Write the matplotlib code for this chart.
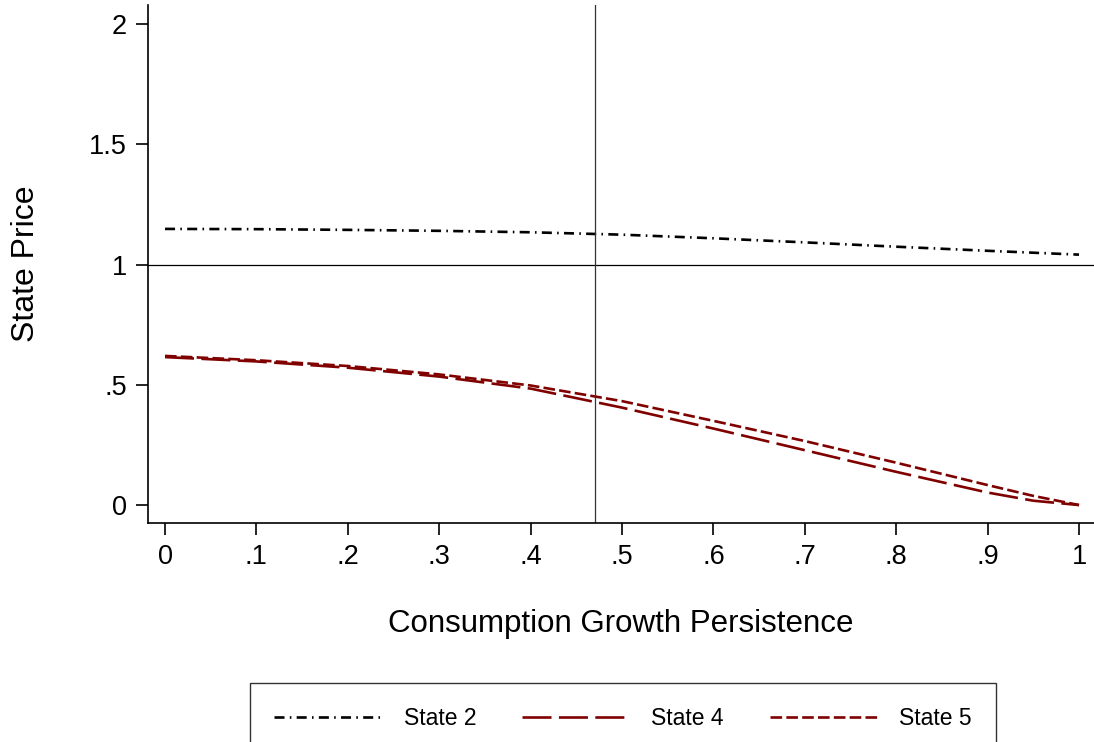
import matplotlib
matplotlib.use('Agg')
import matplotlib.pyplot as plt
from matplotlib.lines import Line2D

plt.rcParams['font.family'] = ['Liberation Sans', 'DejaVu Sans']

# Data
persistence = [0.0, 0.1, 0.2, 0.3, 0.4, 0.5, 0.6, 0.7, 0.8, 0.9, 0.95, 1.0]
state2 = [1.148, 1.147, 1.144, 1.140, 1.134, 1.124, 1.109, 1.092, 1.074, 1.057, 1.049, 1.041]
state4 = [0.615, 0.597, 0.571, 0.534, 0.484, 0.405, 0.318, 0.228, 0.138, 0.052, 0.018, 0.0]
state5 = [0.620, 0.602, 0.578, 0.543, 0.497, 0.432, 0.350, 0.266, 0.176, 0.083, 0.038, 0.0]
series_labels = ['State 2', 'State 4', 'State 5']
x_ticks = [0, .1, .2, .3, .4, .5, .6, .7, .8, .9, 1]
x_ticklabels = ['0', '.1', '.2', '.3', '.4', '.5', '.6', '.7', '.8', '.9', '1']
y_ticks = [0, .5, 1, 1.5, 2]
y_ticklabels = ['0', '.5', '1', '1.5', '2']
vline_x = 0.47
hline_y = 1.0

maroon = '#800000'
lw = 1.9
dash_s2 = (3.8, 2.0, 0.6, 2.0)
dash_s4 = (11, 2.8)
dash_s5 = (4.4, 1.6)

fig = plt.figure(figsize=(10.94, 7.42), dpi=100)
ax = fig.add_axes([0.1353, 0.2955, 0.8647, 0.6978])

ax.plot(persistence, state2, color='black', lw=lw, dashes=dash_s2,
        label=series_labels[0])
ax.plot(persistence, state4, color=maroon, lw=lw, dashes=dash_s4,
        label=series_labels[1])
ax.plot(persistence, state5, color=maroon, lw=lw, dashes=dash_s5,
        label=series_labels[2])

ax.axhline(hline_y, color='black', lw=0.9)
ax.axvline(vline_x, color='#333333', lw=0.9)

ax.set_xlim(-0.0186, 1.0164)
ax.set_ylim(-0.0736, 2.079)

ax.set_xticks(x_ticks)
ax.set_xticklabels(x_ticklabels)
ax.set_yticks(y_ticks)
ax.set_yticklabels(y_ticklabels)
ax.tick_params(direction='out', length=8.5, width=1.2, labelsize=19.5, pad=6.5)

for side in ['top', 'right']:
    ax.spines[side].set_visible(False)
for side in ['left', 'bottom']:
    ax.spines[side].set_linewidth(1.2)

ax.set_xlabel('Consumption Growth Persistence', fontsize=22.5)
ax.xaxis.set_label_coords(0.5, -0.167)
ax.set_ylabel('State Price', fontsize=23)
ax.yaxis.set_label_coords(-0.113, 0.5)

handles = [
    Line2D([], [], color='black', lw=lw, dashes=dash_s2),
    Line2D([], [], color=maroon, lw=lw, dashes=dash_s4),
    Line2D([], [], color=maroon, lw=lw, dashes=dash_s5),
]
leg = fig.legend(handles, series_labels, loc='upper center',
                 bbox_to_anchor=(623 / 1094, 1 - 683 / 742),
                 borderaxespad=0.0,
                 ncol=3, fontsize=16.5, frameon=True, fancybox=False,
                 edgecolor='black', handlelength=4.7, handletextpad=0.95,
                 columnspacing=2.0, borderpad=1.05)
leg.get_frame().set_linewidth(1.0)

fig.savefig('out.png', dpi=100)
plt.close(fig)
